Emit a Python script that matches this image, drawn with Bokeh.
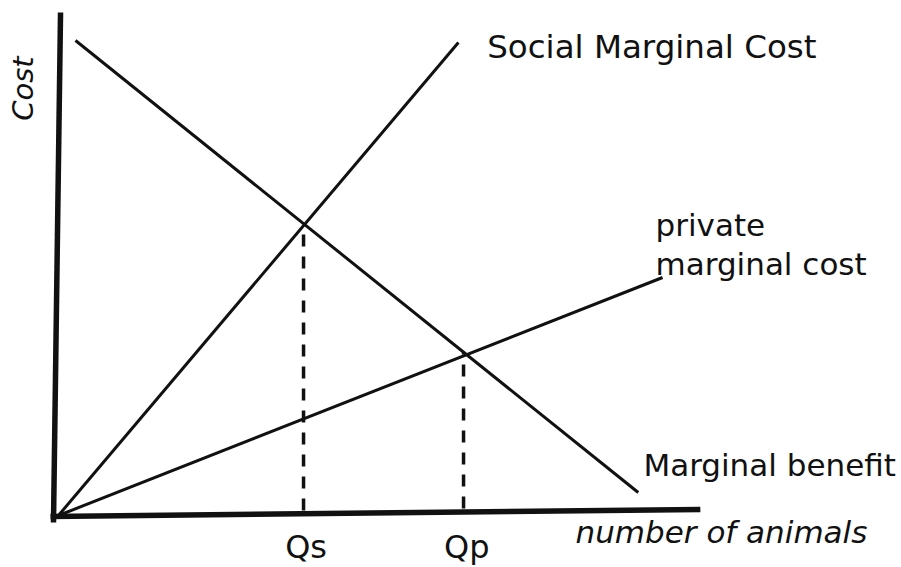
from bokeh.plotting import figure
from bokeh.models import Range1d
from bokeh.core.properties import value
from bokeh.embed import file_html
from bokeh.resources import INLINE
import math

# ---- data (conceptual units: quantity on x, cost on y) ----
y_axis_x = [-0.47, 0.63]
y_axis_y = [-1.4, 100.6]
x_axis_x = [-0.94, 100.6]
x_axis_y = [-0.2, 1.2]

mb_x = [2.97, 90.9]          # Marginal benefit
mb_y = [95.0, 4.6]
smc_x = [0.3, 62.8]          # Social Marginal Cost
smc_y = [0.0, 94.6]
pmc_x = [0.3, 94.7]          # private marginal cost
pmc_y = [0.0, 47.6]

q_names = ["Qs", "Qp"]
q_vals = [38.6, 63.6]
q_tops = [58.2, 32.6]
q_bottoms = [1.0, 1.4]

# ---- figure ----
W, H = 901, 567
p = figure(width=W, height=H, output_backend="svg", toolbar_location=None,
           x_range=Range1d(-8.75, 132.03), y_range=Range1d(-10.4, 103.0),
           min_border=0, min_border_left=0, min_border_right=0,
           min_border_top=0, min_border_bottom=0)
p.axis.visible = False
p.grid.visible = False
p.outline_line_color = None
p.background_fill_color = "white"
p.border_fill_color = "white"

ink = "#111111"
font = value("DejaVu Sans")

p.line(y_axis_x, y_axis_y, line_color=ink, line_width=5.5)
p.line(x_axis_x, x_axis_y, line_color=ink, line_width=5.5)
p.line(mb_x, mb_y, line_color=ink, line_width=3)
p.line(smc_x, smc_y, line_color=ink, line_width=3)
p.line(pmc_x, pmc_y, line_color=ink, line_width=3)

p.segment(x0=q_vals, y0=q_bottoms, x1=q_vals, y1=q_tops, line_color=ink,
          line_width=3.5, line_dash="12 10")

p.text(x=[39.0, 64.1], y=[-6.2, -6.2], text=q_names, text_font=font,
       text_font_size="32px", text_align="center", text_baseline="alphabetic",
       text_color=ink)

p.text(x=[67.3], y=[93.8], text=["Social Marginal Cost"], text_font=font,
       text_font_size="32.5px", text_align="left", text_baseline="alphabetic",
       text_color=ink)
p.text(x=[93.6, 93.6], y=[58.2, 50.4], text=["private", "marginal cost"],
       text_font=font, text_font_size="31px", text_align="left",
       text_baseline="alphabetic", text_color=ink)
p.text(x=[91.7], y=[10.2], text=["Marginal benefit"], text_font=font,
       text_font_size="31px", text_align="left", text_baseline="alphabetic",
       text_color=ink)
p.text(x=[81.1], y=[-3.2], text=["number of animals"], text_font=font,
       text_font_size="31px", text_font_style="italic", text_align="left",
       text_baseline="alphabetic", text_color=ink)
p.text(x=[-5.16], y=[85.4], text=["Cost"], text_font=font,
       text_font_size="29px", text_font_style="italic", text_align="center",
       text_baseline="middle", angle=math.pi / 2, text_color=ink)

open("out.html", "w").write(file_html(p, INLINE))
